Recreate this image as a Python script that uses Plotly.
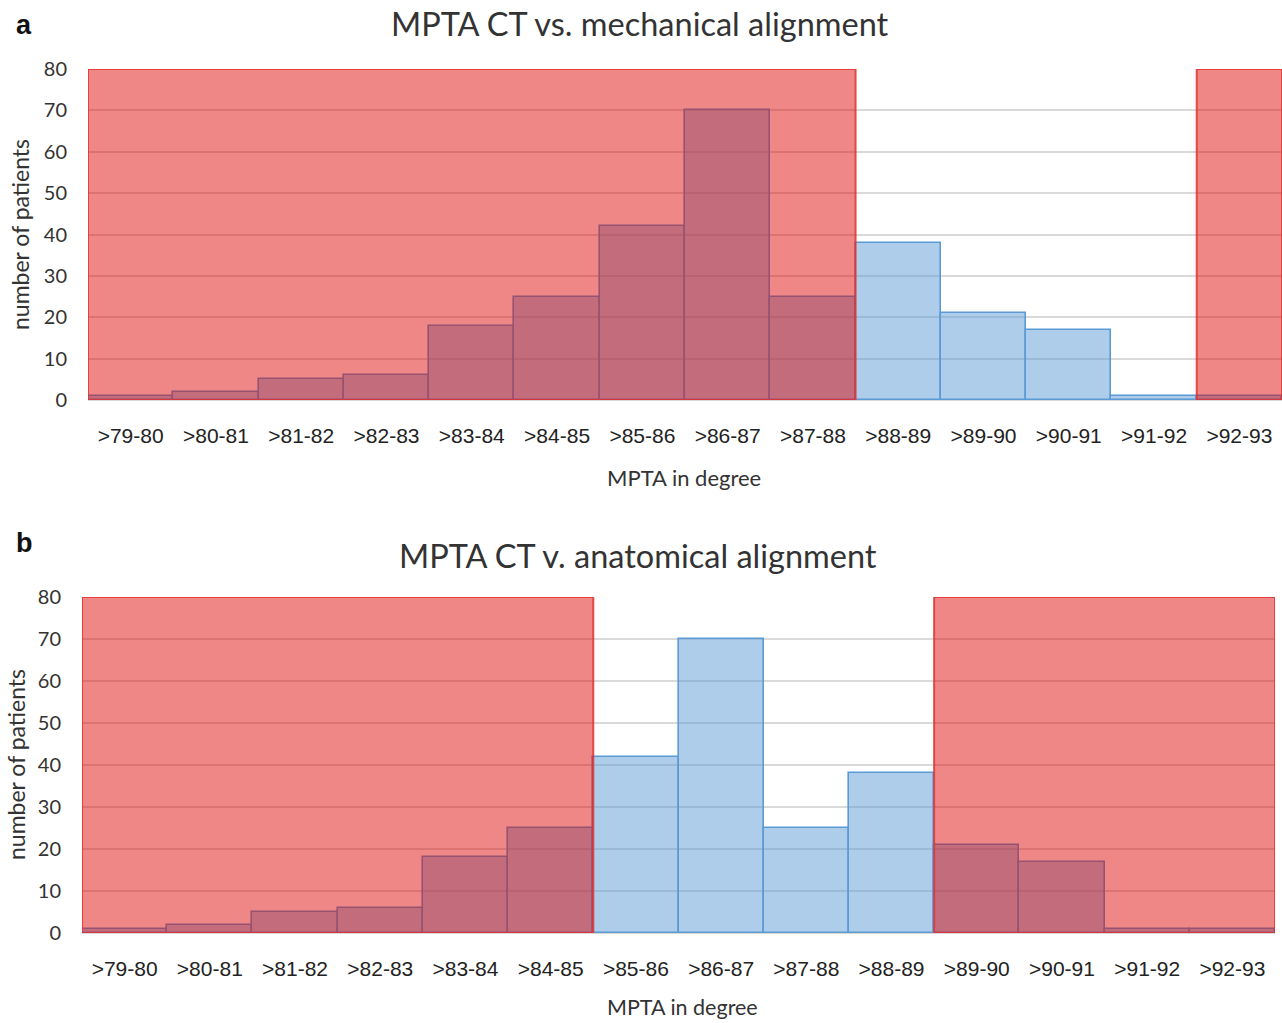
import plotly.graph_objects as go

categories = [">79-80", ">80-81", ">81-82", ">82-83", ">83-84", ">84-85", ">85-86",
              ">86-87", ">87-88", ">88-89", ">89-90", ">90-91", ">91-92", ">92-93"]
patients = [1, 2, 5, 6, 18, 25, 42, 70, 25, 38, 21, 17, 1, 1]

# outlier category ranges (first, last) highlighted in red
outside_a = [(">79-80", ">87-88"), (">92-93", ">92-93")]
outside_b = [(">79-80", ">84-85"), (">89-90", ">92-93")]

title_a = "MPTA CT vs. mechanical alignment"
title_b = "MPTA CT v. anatomical alignment"
x_title = "MPTA in degree"
y_title = "number of patients"
yticks = [0, 10, 20, 30, 40, 50, 60, 70, 80]
ymax = 80

W, H = 1282, 1023
SANS = "Lato, 'Open Sans', sans-serif"
ARIAL = "'Liberation Sans', Arial, sans-serif"

fig = go.Figure()
idx = list(range(len(categories)))
for xa, ya in (("x", "y"), ("x2", "y2")):
    fig.add_trace(go.Bar(
        x=idx, y=patients, width=1.0, xaxis=xa, yaxis=ya,
        marker=dict(color="rgba(91,155,213,0.5)", line=dict(color="#5b9bd5", width=1.6)),
        showlegend=False, hoverinfo="skip"))

shapes = []
for ranges, xr, yr in ((outside_a, "x", "y"), (outside_b, "x2", "y2")):
    for a, b in ranges:
        shapes.append(dict(type="rect", xref=xr, yref=yr,
                           x0=categories.index(a) - 0.5, x1=categories.index(b) + 0.5,
                           y0=0, y1=ymax, layer="above",
                           fillcolor="rgba(222,0,0,0.47)",
                           line=dict(color="rgba(225,50,50,0.85)", width=2)))

def xax(domain, anchor):
    return dict(domain=domain, anchor=anchor, range=[-0.5, len(categories) - 0.5],
                tickmode="array", tickvals=idx, ticktext=categories,
                tickfont=dict(family=ARIAL, size=21, color="#222"),
                showgrid=False, zeroline=False, showline=True, linecolor="#d9d9d9",
                linewidth=1, ticks="", ticklen=0, ticklabelstandoff=17, automargin=False)

def yax(domain, anchor):
    return dict(domain=domain, anchor=anchor, range=[0, ymax], tickvals=yticks,
                tickfont=dict(family=SANS, size=20, color="#333"),
                showgrid=True, gridcolor="#d9d9d9", gridwidth=1.5, zeroline=False,
                ticks="", ticklabelstandoff=20, automargin=False)

def txt(text, x, y, size, family=SANS, color="#333", angle=0, xanchor="center"):
    return dict(text=text, x=x / W, y=1 - y / H, xref="paper", yref="paper",
                showarrow=False, xanchor=xanchor, yanchor="middle", textangle=angle,
                font=dict(family=family, size=size, color=color))

fig.update_layout(
    width=W, height=H, margin=dict(l=0, r=0, t=0, b=0),
    paper_bgcolor="white", plot_bgcolor="white",
    barmode="overlay", bargap=0,
    xaxis=xax([88 / W, 1.0], "y"),
    yaxis=yax([1 - 400 / H, 1 - 69 / H], "x"),
    xaxis2=xax([82 / W, 1275 / W], "y2"),
    yaxis2=yax([1 - 933 / H, 1 - 597 / H], "x2"),
    shapes=shapes,
    annotations=[
        txt(title_a, 640, 24, 32.5),
        txt(title_b, 638, 555, 32.5),
        txt("<b>a</b>", 14, 25, 27, family=ARIAL, color="#111", xanchor="left"),
        txt("<b>b</b>", 14, 543, 27, family=ARIAL, color="#111", xanchor="left"),
        txt(y_title, 20, 235, 23, angle=-90),
        txt(y_title, 16, 765, 23, angle=-90),
        txt(x_title, 684, 477, 22),
        txt(x_title, 682, 1007, 21.5),
    ],
)

fig.write_html("out.html")
